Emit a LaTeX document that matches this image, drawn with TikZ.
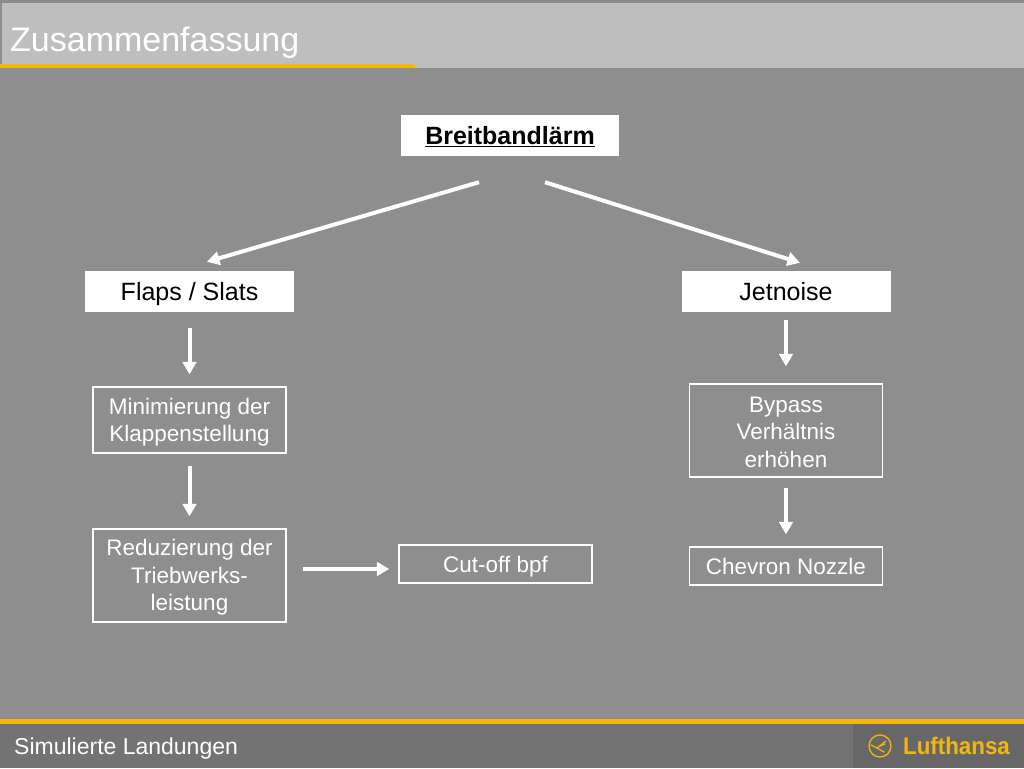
\documentclass[tikz,border=0pt]{standalone}
\usepackage{fontspec}
\setmainfont{Liberation Sans}
\usetikzlibrary{arrows.meta}
\definecolor{bg}{HTML}{8E8E8E}
\definecolor{hdr}{HTML}{BEBEBE}
\definecolor{hdrtop}{HTML}{8A8A8A}
\definecolor{ftr}{HTML}{737373}
\definecolor{ftrr}{HTML}{676767}
\definecolor{lhy}{HTML}{F2B70F}
\begin{document}
\begin{tikzpicture}[x=1pt,y=-1pt,
  whitebox/.style={fill=white, text=black, inner sep=0pt, minimum width=209pt, minimum height=41pt, text height=17.9pt, text depth=0pt, font=\fontsize{25}{30}\selectfont},
  outbox/.style={draw=white, line width=1.3pt, text=white, align=center, inner sep=0pt, minimum width=193pt, font=\fontsize{22.5}{27.5}\selectfont},
  oneline/.style={text height=16.1pt, text depth=0pt},
  arr/.style={draw=white, line width=4pt, -{Triangle[length=12.5pt,width=13.5pt]}}
]
\useasboundingbox (0,0) rectangle (1024,768);
% background
\fill[bg] (0,0) rectangle (1024,768);
\fill[hdrtop] (0,0) rectangle (1024,3);
\fill[hdr] (1.5,3) rectangle (1024,68);
\fill[lhy] (0,64) rectangle (415,68);
\node[anchor=base west, text=white, inner sep=0pt, font=\fontsize{34}{40}\selectfont] (title) at (10,52) {Zusammenfassung};
% footer
\fill[lhy] (0,719) rectangle (1024,723.5);
\fill[ftr] (0,723.5) rectangle (1024,768);
\fill[ftrr] (853,723.5) rectangle (1024,768);
\node[anchor=base west, text=white, inner sep=0pt, font=\fontsize{23}{28}\selectfont] (foot) at (14,754) {Simulierte Landungen};
\node[anchor=base west, text=lhy, inner sep=0pt, xscale=0.93, font=\bfseries\fontsize{24}{28}\selectfont] (brand) at (903,754) {Lufthansa};
\node[draw=lhy, line width=1.3pt, circle, minimum size=22pt, inner sep=0pt] (logo) at (880,746) {};
\draw[lhy, line width=1.2pt, line cap=round] (871,745) -- (877,748) -- (886,741);
\draw[lhy, line width=1.2pt, line cap=round] (877,748) -- (884,752);
\draw[lhy, line width=1.2pt, line cap=round] (880,746) -- (885,744);
% nodes
\node[whitebox, minimum width=218pt, font=\bfseries\fontsize{25}{30}\selectfont] (breit) at (510,135.5) {\underline{Breitbandlärm}};
\node[whitebox] (flaps) at (189.5,291.5) {Flaps / Slats};
\node[whitebox] (jet) at (786,291.5) {Jetnoise};
\node[outbox, minimum height=66pt] (minim) at (189.5,420) {\rule{0pt}{20.5pt}Minimierung der\\Klappenstellung};
\node[outbox, minimum height=93pt] (reduz) at (189.5,575.5) {\rule{0pt}{20.5pt}Reduzierung der\\Triebwerks-\\leistung};
\node[outbox, oneline, minimum height=38pt] (cut) at (495.5,564) {Cut-off bpf};
\node[outbox, minimum height=93pt] (bypass) at (786,430.5) {\rule{0pt}{18.5pt}Bypass\\Verhältnis\\erhöhen};
\node[outbox, oneline, minimum height=38pt] (chev) at (786,566) {Chevron Nozzle};
% connectors
\coordinate (d1s) at ([xshift=-31pt,yshift=-26pt]breit.south);
\coordinate (d1e) at ([xshift=17.5pt,yshift=9pt]flaps.north);
\coordinate (d2s) at ([xshift=35pt,yshift=-26pt]breit.south);
\coordinate (d2e) at ([xshift=14pt,yshift=8pt]jet.north);
\draw[arr] (d1s) -- (d1e);
\draw[arr] (d2s) -- (d2e);
\draw[arr, shorten <=16pt, shorten >=12pt] (flaps.south) -- (minim.north);
\draw[arr, shorten <=12pt, shorten >=12pt] (minim.south) -- (reduz.north);
\draw[arr, shorten <=8pt, shorten >=17pt] (jet.south) -- (bypass.north);
\draw[arr, shorten <=10pt, shorten >=12pt] (bypass.south) -- (chev.north);
\coordinate (cutin) at ([yshift=-5pt]cut.west);
\draw[arr, shorten <=16pt, shorten >=9pt] (cutin -| reduz.east) -- (cutin);
\end{tikzpicture}
\end{document}
